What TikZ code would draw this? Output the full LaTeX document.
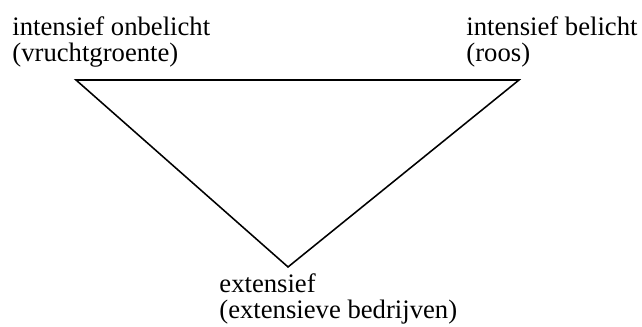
\documentclass[tikz,border=0pt]{standalone}
\usepackage{fontspec}
\setmainfont{Liberation Serif}
\begin{document}
\begin{tikzpicture}[x=1cm,y=1cm,
  corner/.style={anchor=base west,align=left,inner sep=0pt,font=\fontsize{12}{11.7}\selectfont}]
\useasboundingbox (0,0) rectangle (10.153,5.171);

\coordinate (onb) at (1.202,3.906);
\coordinate (bel) at (8.208,3.906);
\coordinate (ext) at (4.555,0.949);
\draw[line width=0.7pt] (onb) -- (bel) -- (ext) -- cycle;

% base = baseline of the second line
\node[corner] (onblabel) at (0.190,4.191) {intensief onbelicht\\(vruchtgroente)};
\node[corner] (bellabel) at (7.370,4.191) {intensief belicht\\(roos)};
\node[corner] (extlabel) at (3.463,0.127) {extensief\\(extensieve bedrijven)};
\end{tikzpicture}
\end{document}
